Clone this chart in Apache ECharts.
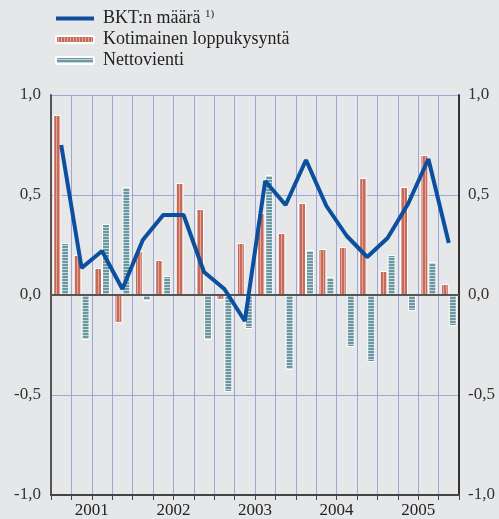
<!DOCTYPE html>
<html>
<head>
<meta charset="utf-8">
<script src="https://cdn.jsdelivr.net/npm/echarts@6/dist/echarts.min.js"></script>
<style>
  html, body { margin: 0; padding: 0; background: #e6e7e9; }
  #chart { width: 499px; height: 519px; }
</style>
</head>
<body>
<div id="chart"></div>
<script>
// neljännekset 2001Q1 - 2005Q4
var quarters = ['2001Q1', '2001Q2', '2001Q3', '2001Q4', '2002Q1', '2002Q2', '2002Q3', '2002Q4',
    '2003Q1', '2003Q2', '2003Q3', '2003Q4', '2004Q1', '2004Q2', '2004Q3', '2004Q4',
    '2005Q1', '2005Q2', '2005Q3', '2005Q4'];
var years = ['2001', '2002', '2003', '2004', '2005'];

var bkt = [0.75, 0.135, 0.22, 0.03, 0.275, 0.40, 0.40, 0.115, 0.03, -0.13,
    0.57, 0.45, 0.675, 0.445, 0.295, 0.19, 0.285, 0.455, 0.68, 0.26];
var kotimainen = [0.90, 0.20, 0.135, -0.14, 0.22, 0.175, 0.56, 0.43, -0.025, 0.26,
    0.41, 0.31, 0.46, 0.23, 0.24, 0.585, 0.12, 0.54, 0.70, 0.055];
var nettovienti = [0.26, -0.225, 0.355, 0.54, -0.03, 0.095, 0.005, -0.225, -0.485, -0.17,
    0.60, -0.375, 0.225, 0.09, -0.26, -0.335, 0.20, -0.08, 0.165, -0.155];

function stripes(vertical, dark, light) {
    var c = document.createElement('canvas');
    c.width = vertical ? 3 : 1;
    c.height = vertical ? 1 : 3;
    var ctx = c.getContext('2d');
    ctx.fillStyle = dark;
    ctx.fillRect(0, 0, c.width, c.height);
    ctx.fillStyle = light;
    if (vertical) ctx.fillRect(2, 0, 1, 1); else ctx.fillRect(0, 2, 1, 1);
    return {image: c, repeat: 'repeat'};
}

var serif = 'Liberation Serif';
var gridBlue = '#9ba7d9';
var lineBlue = '#0b4f9e';
var fmt = function (v) { return v.toFixed(1).replace('.', ','); };

var myChart = echarts.init(document.getElementById('chart'));
var option = {
    backgroundColor: '#e6e7e9',
    animation: false,
    legend: {
        orient: 'vertical',
        left: 50,
        top: 4,
        itemWidth: 38,
        itemHeight: 7,
        itemGap: 3,
        symbolKeepAspect: true,
        textStyle: {fontFamily: serif, fontSize: 18, color: '#222', padding: [0, 0, 0, 4],
            rich: {s: {fontFamily: serif, fontSize: 11, color: '#222', padding: [0, 0, 8, 0]}}},
        formatter: function (name) {
            return name === 'BKT:n määrä' ? name + ' {s|1)}' : name;
        },
        data: [
            {name: 'BKT:n määrä', icon: 'path://M0,0L38,0L38,4L0,4Z', itemStyle: {color: lineBlue}},
            'Kotimainen loppukysyntä',
            'Nettovienti'
        ]
    },
    grid: {left: 51, right: 40, top: 95, bottom: 24},
    xAxis: [{
        type: 'category',
        data: quarters,
        axisLine: {onZero: false, lineStyle: {color: '#444', width: 2}},
        axisTick: {show: true, interval: 0, length: 5, lineStyle: {color: '#444', width: 1}},
        axisLabel: {show: false, interval: 0},
        splitLine: {show: true, interval: 0, lineStyle: {color: gridBlue, width: 1}}
    }, {
        type: 'category',
        data: years,
        position: 'bottom',
        axisLine: {show: false},
        axisTick: {show: false},
        axisLabel: {fontFamily: serif, fontSize: 17, color: '#222', margin: 7}
    }],
    yAxis: [{
        type: 'value',
        min: -1, max: 1, interval: 0.5,
        axisLine: {show: true, lineStyle: {color: '#555', width: 2}},
        axisTick: {show: false},
        axisLabel: {fontFamily: serif, fontSize: 17, color: '#333', margin: 10, formatter: fmt},
        splitLine: {show: true, lineStyle: {color: gridBlue, width: 1}}
    }, {
        type: 'value',
        min: -1, max: 1, interval: 0.5,
        position: 'right',
        axisLine: {show: true, lineStyle: {color: '#333', width: 2}},
        axisTick: {show: false},
        axisLabel: {fontFamily: serif, fontSize: 17, color: '#333', margin: 9, formatter: fmt},
        splitLine: {show: false}
    }],
    series: [{
        name: 'Kotimainen loppukysyntä',
        type: 'bar',
        data: kotimainen,
        barWidth: 8,
        barGap: '0%',
        itemStyle: {color: stripes(true, '#c46b5b', '#e3a696'), borderColor: '#fff', borderWidth: 1},
        markLine: {
            silent: true,
            symbol: ['none', 'none'],
            label: {show: false},
            lineStyle: {color: '#555', width: 2, type: 'solid'},
            data: [{yAxis: 0}]
        }
    }, {
        name: 'Nettovienti',
        type: 'bar',
        data: nettovienti,
        barWidth: 8,
        itemStyle: {color: stripes(false, '#6b97a2', '#c3d6da'), borderColor: '#fff', borderWidth: 1}
    }, {
        name: 'BKT:n määrä',
        type: 'line',
        data: bkt,
        showSymbol: false,
        symbol: 'none',
        z: 5,
        lineStyle: {color: lineBlue, width: 4},
        itemStyle: {color: lineBlue}
    }]
};
myChart.setOption(option);
</script>
</body>
</html>
